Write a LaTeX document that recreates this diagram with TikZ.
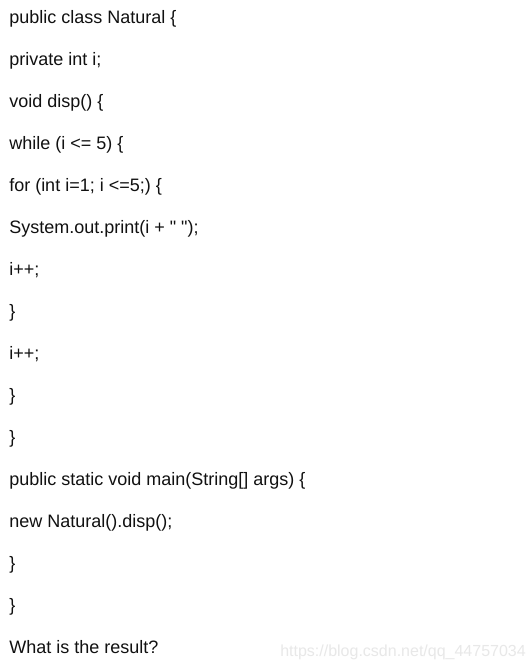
\documentclass[tikz,border=0pt]{standalone}
\usepackage{fontspec}
\setmainfont{Liberation Sans}[Ligatures=TeXOff]
\definecolor{txt}{HTML}{111111}
\definecolor{wm}{HTML}{E8E8E8}
\begin{document}
\begin{tikzpicture}[x=0.75pt,y=-0.75pt,
  codeline/.style={anchor=base west, inner sep=0pt, text=txt, font=\fontsize{13.5pt}{16pt}\selectfont},
  watermark/.style={anchor=base west, inner sep=0pt, text=wm, font=\fontsize{12pt}{14pt}\selectfont}]
\fill[white] (0,0) rectangle (532,669);
\useasboundingbox (0,0) rectangle (532,669);
\node[codeline] (l1) at (9,23) {public class Natural \{};
\node[codeline] (l2) at (9,65) {private int i;};
\node[codeline] (l3) at (9,107) {void disp() \{};
\node[codeline] (l4) at (9,149) {while (i <= 5) \{};
\node[codeline] (l5) at (9,191) {for (int i=1; i <=5;) \{};
\node[codeline] (l6) at (9,233) {System.out.print(i + " ");};
\node[codeline] (l7) at (9,275) {i++;};
\node[codeline] (l8) at (9,317) {\}};
\node[codeline] (l9) at (9,359) {i++;};
\node[codeline] (l10) at (9,401) {\}};
\node[codeline] (l11) at (9,443) {\}};
\node[codeline] (l12) at (9,485) {public static void main(String[] args) \{};
\node[codeline] (l13) at (9,527) {new Natural().disp();};
\node[codeline] (l14) at (9,569) {\}};
\node[codeline] (l15) at (9,611) {\}};
\node[codeline] (l16) at (9,653) {What is the result?};
\node[watermark] (wm) at (280,656) {https://blog.csdn.net/qq\_44757034};
\end{tikzpicture}
\end{document}
